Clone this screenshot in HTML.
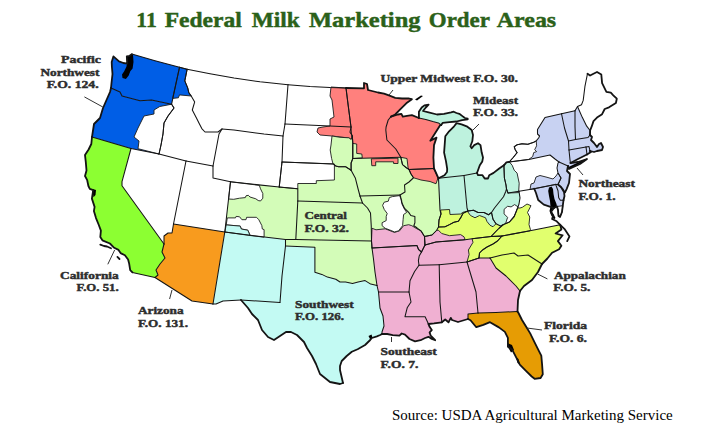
<!DOCTYPE html>
<html><head><meta charset="utf-8"><style>
html,body{margin:0;padding:0;background:#fff;}
body{width:720px;height:430px;position:relative;overflow:hidden;}
svg{position:absolute;left:0;top:0;}
</style></head><body>
<svg width="720" height="430" viewBox="0 0 720 430">
<g><path d="M131.8,54.1 L155,60.8 L179.5,67.3 L171.6,104.2 L160.9,101.9 L151.6,100.1 L140,100.7 L122,96 L120,92 L111,88 L111.4,84 L112.5,74 L111.9,66.7 L111.7,62 L113.4,56.4 L119,61.4 L123.4,63 L127.3,63.6 L126.8,56.4 L129.6,55.8 L131.8,54.1Z" fill="#005ee6"/><path d="M111,88 L120,92 L122,96 L140,100.7 L151.6,100.1 L160.9,101.9 L171.6,104.2 L174,108 L168,116 L164,123 L163,134 L161,145 L159,154 L131,148.5 L92,137 L94,124 L100,118 L103,108 L110,92 L111,88Z" fill="#005ee6"/><path d="M92,137 L131,148.5 L122,181.6 L122,185.8 L164,244 L162,252 L165,258 L160,264 L156,270 L158,275 L155,277.5 L132.4,272.4 L130.2,270.2 L129.2,263.8 L128.1,259.5 L124.9,255.3 L120.6,253.1 L118.5,249.9 L114.2,247.8 L109.9,243.5 L102.4,240.3 L100.3,237.1 L100.9,230.6 L98.8,225 L96,218.1 L93.9,211.1 L94.6,206.9 L91.9,198.6 L93.2,190.2 L89.8,188.8 L88.4,186 L87.2,180.2 L85,176 L86.5,170.4 L85.8,162.1 L85,155.1 L88.6,149.5 L91.3,144 L92,137Z" fill="#8cff32"/><path d="M131,148.5 L159,154 L186,161 L173.5,224 L172,233 L168,233 L164,236 L164,244 L122,185.8 L122,181.6 L131,148.5Z" fill="#ffffff"/><path d="M179.5,67.3 L187.1,69.3 L184.8,80.9 L187.7,87.9 L188.8,92.6 L191.2,96 L194.7,101.9 L192.3,110 L196.7,118.6 L199.2,123.6 L201.8,128.6 L205,132 L218,132 L222,129 L219,134 L213,166 L186,161 L159,154 L161,145 L163,134 L164,123 L168,116 L174,108 L171.6,104.2 L179.5,67.3Z" fill="#ffffff"/><path d="M187.1,69.3 L210,73.8 L234,78 L260,81.8 L288,84.7 L285,124 L283,136 L264,134 L234,130 L222,129 L218,132 L205,132 L201.8,128.6 L199.2,123.6 L196.7,118.6 L192.3,110 L194.7,101.9 L191.2,96 L188.8,92.6 L187.7,87.9 L184.8,80.9 L187.1,69.3Z" fill="#ffffff"/><path d="M222,129 L234,130 L264,134 L283,136 L282,162 L279.2,187.1 L230.5,181.8 L213,178 L213,166 L219,134 L222,129Z" fill="#ffffff"/><path d="M186,161 L213,166 L213,178 L230.5,181.8 L224.8,232 L173.5,224 L186,161Z" fill="#ffffff"/><path d="M173.5,224 L224.8,232 L213,304 L192,301 L155,277.5 L158,275 L156,270 L160,264 L165,258 L162,252 L164,244 L164,236 L168,233 L172,233 L173.5,224Z" fill="#f89b1e"/><path d="M230.5,181.8 L279.2,187.1 L297.8,188.8 L297.8,201 L295.8,239.4 L285.5,239.6 L224.8,232 L230.5,181.8Z" fill="#d3fcb8"/><path d="M224.8,232 L285.5,239.6 L285.5,246 L282,276 L280,302.5 L241,300 L223,301 L216,304 L213,304 L224.8,232Z" fill="#c3faf3"/><path d="M288,84.7 L310,86.6 L330,87.6 L346,88 L348,104 L351,127 L330,126 L285,124 L288,84.7Z" fill="#ffffff"/><path d="M285,124 L330,126 L351,127 L350,132.2 L352.3,135.6 L352.8,143.4 L352.8,158.5 L351.1,163 L351.1,170.2 L345.6,166.7 L338.6,166.7 L335.8,166 L333,163.9 L282,162 L283,136 L285,124Z" fill="#ffffff"/><path d="M282,162 L333,163.9 L335.8,166 L338.6,166.7 L345.6,166.7 L351.1,170.2 L355.3,177.9 L358.1,189 L360,196 L362.5,203 L297.8,201 L297.8,188.8 L279.2,187.1 L282,162Z" fill="#d3fcb8"/><path d="M297.8,201 L362.5,203 L367.5,208 L370.5,213 L371.25,226 L371.5,241 L295.8,239.4 L297.8,201Z" fill="#d3fcb8"/><path d="M295.8,239.4 L371.5,241 L372,248 L373.4,258.3 L375,272 L377,285.5 L370.7,284.1 L365.1,280.6 L358.1,282 L352.5,283.4 L345.6,282 L340,282 L335.8,279.2 L327.4,277.1 L321.8,274.4 L314.9,272.3 L314.9,247.2 L285.5,246 L285.5,239.6 L295.8,239.4Z" fill="#d3fcb8"/><path d="M285.5,246 L314.9,247.2 L314.9,272.3 L321.8,274.4 L327.4,277.1 L335.8,279.2 L340,282 L345.6,282 L352.5,283.4 L358.1,282 L365.1,280.6 L370.7,284.1 L377,285.5 L378.5,292 L380,308 L383,316 L384,326 L382,332 L382,334 L380.2,335 L376.9,336.3 L371.8,338 L370.2,340 L365.1,345 L357.6,349.2 L351.8,351.8 L346.7,356 L341.7,361 L340,366 L340,370 L343,383 L340,384 L330,382 L320,374 L316,364 L312,356 L307,348 L304,342 L297,335 L291,332 L286,332 L280,336 L274,340 L268,337 L262,330 L258,320 L252,314 L248,308 L241,300 L280,302.5 L282,276 L285.5,246Z" fill="#c3faf3"/><path d="M346,88 L364,88.3 L364,83 L367,84 L368,90 L378,92.5 L384,93.6 L389.6,95.7 L395.2,97.8 L402.1,98.5 L409.1,98.5 L411.9,99.2 L406.3,103.3 L400.7,108.9 L395.2,114.5 L391,116.6 L388.2,120 L386.1,127 L385.8,130 L386.9,140 L395.8,149 L400.8,157.3 L352.8,158.5 L352.8,143.4 L352.3,135.6 L350,132.2 L351,127 L348,104 L346,88Z" fill="#ff807d"/><path d="M352.8,158.5 L400.8,157.3 L402.5,164.6 L406,167.5 L409,169.5 L411,174 L413.5,177.75 L409,182 L404.5,185 L405,192 L400,195 L360,196 L358.1,189 L355.3,177.9 L351.1,170.2 L351.1,163 L352.8,158.5Z" fill="#d3fcb8"/><path d="M360,196 L400,195 L400.5,196.1 L401.6,202.2 L404.6,208.4 L408.7,212.4 L410.8,215.5 L414.9,216.5 L414.9,222.7 L413.8,225.7 L416.9,227.8 L421,230.9 L424.5,236.5 L425,245 L421.5,252 L418.5,249.5 L417,245.5 L372,248 L371.5,241 L371.25,226 L370.5,213 L367.5,208 L362.5,203 L360,196Z" fill="#d3fcb8"/><path d="M372,248 L417,245.5 L418.5,249.5 L421.5,252 L419.2,256.1 L418.4,260.7 L419,265.3 L414.6,271.5 L410,280.7 L409,292 L378.5,292 L377,285.5 L375,272 L373.4,258.3 L372,248Z" fill="#f0b0d2"/><path d="M378.5,292 L409,292 L411,302 L407.2,307.8 L405,316.7 L425.1,316.7 L428.5,324 L429.6,326.8 L431.8,330.1 L429.6,332.4 L430.7,335.7 L435.2,340.2 L431.8,339 L428.5,336.8 L425.1,338 L420.6,340.2 L415,341.3 L409.5,339 L405,334.6 L401.7,333.5 L399.4,335.7 L392.7,335.2 L387.2,334 L382,334 L382,332 L384,326 L383,316 L380,308 L378.5,292Z" fill="#f0b0d2"/><path d="M391,116.6 L398,114.5 L401.4,113.8 L402.8,116.6 L407,115.9 L411.9,115.2 L418.9,118 L425.8,119.4 L432.8,121.5 L438.4,122.9 L441.2,125 L440.3,125 L430.3,140.7 L436.5,137.6 L434,145.1 L433.4,157.6 L434,168.5 L409,169.5 L406,167.5 L402.5,164.6 L400.8,157.3 L395.8,149 L386.9,140 L385.8,130 L386.1,127 L388.2,120 L391,116.6Z" fill="#ff807d"/><path d="M409,169.5 L434,168.5 L438.5,178.3 L440,210 L441,214 L439,220 L438.5,227 L436.5,230.5 L432,235 L424.5,236.5 L421,230.9 L416.9,227.8 L413.8,225.7 L414.9,222.7 L414.9,216.5 L410.8,215.5 L408.7,212.4 L404.6,208.4 L401.6,202.2 L400.5,196.1 L400,195 L405,192 L404.5,185 L409,182 L413.5,177.75 L411,174 L409,169.5Z" fill="#d3fcb8"/><path d="M438.5,178.3 L464,175.5 L477,173 L479.8,165.2 L482.3,161.4 L483,157.6 L481.7,152.6 L480.5,145.1 L478,143.2 L474.2,145.1 L471.7,148.2 L470.4,146.3 L472.3,141.3 L473,135 L471.7,130 L466.7,126.3 L461.6,124.4 L456.6,123.1 L454.1,126.3 L449.1,131.3 L445.3,136.3 L444.1,152.6 L446,161.4 L447.2,168.9 L447,172 L444.5,175.2 L438.5,178.3Z" fill="#bef2de"/><path d="M441.2,125 L442.6,122.9 L449.5,122.2 L456.5,121.5 L462.1,120.1 L467.7,119.4 L467.7,118.7 L464.9,118 L462.1,115.9 L459.3,113.8 L456.5,113 L453.7,111.7 L451,112.4 L444,113.8 L437,114.5 L428.6,112.4 L423,111 L425.8,107.5 L428.6,104.7 L424.4,105.4 L421.7,107.5 L418.9,111.7 L418.9,118 L425.8,119.4 L432.8,121.5 L438.4,122.9 L441.2,125Z" fill="#bef2de"/><path d="M438.5,178.3 L464,175.5 L467,208 L468,211 L467.3,211.2 L462.9,213.4 L460.6,217.9 L458.4,221.2 L453.9,222.3 L449.5,224.6 L445,226.8 L438.5,227 L439,220 L441,214 L440,210 L438.5,178.3Z" fill="#bef2de"/><path d="M503.9,165.3 L499.2,168.5 L493.6,172.9 L489.2,175.2 L488,178.5 L484.7,178.5 L482.5,175.2 L478,175.2 L477,173 L464,175.5 L467,208 L468,211 L473.5,210.25 L478,212.5 L484,212.5 L488.5,214.75 L491.5,212.5 L494.5,208 L497.5,204.25 L500.5,200.5 L503.5,196.75 L505.75,191.5 L506.5,189 L506,185 L504.4,178 L503.9,165.3Z" fill="#bef2de"/><path d="M438.5,227 L445,226.8 L449.5,224.6 L453.9,222.3 L458.4,221.2 L460.6,217.9 L462.9,213.4 L467.3,211.2 L468,211 L473.5,210.25 L478,212.5 L484,212.5 L488.5,214.75 L491.5,212.5 L493,219.25 L496,223.75 L500.5,226 L503.5,224.5 L499,228.25 L491,236.5 L472,238.75 L463.5,240 L436,242 L425,245 L424.5,236.5 L432,235 L436.5,230.5 L438.5,227Z" fill="#e1ff6e"/><path d="M425,245 L436,242 L463.5,240 L472,238.75 L491,236.5 L502,236 L497.5,241 L493,244 L487,247 L482.5,250 L479.5,253 L479,258 L467,262 L439.2,264.8 L419,265.3 L418.4,260.7 L419.2,256.1 L421.5,252 L425,245Z" fill="#f0b0d2"/><path d="M419,265.3 L439.2,264.8 L440,302 L441.8,322.3 L434,323.4 L428.5,324 L425.1,316.7 L405,316.7 L407.2,307.8 L411,302 L409,292 L410,280.7 L414.6,271.5 L419,265.3Z" fill="#f0b0d2"/><path d="M439.2,264.8 L467,262 L476,292 L478,313 L468,314 L468,319 L458,322 L452,320 L450.8,317.9 L448.5,322.3 L445.2,319.5 L441.8,322.3 L440,302 L439.2,264.8Z" fill="#f0b0d2"/><path d="M467,262 L479,258 L490,258 L496,268 L506,276 L516,286 L520,291 L518,300 L517.5,311.5 L496,312.5 L478,313 L476,292 L467,262Z" fill="#f0b0d2"/><path d="M468,319 L468,314 L478,313 L496,312.5 L517.5,311.5 L518.5,313 L522,320 L525.7,326 L530.2,333.4 L534.6,342.3 L539.1,351.3 L541.3,355.7 L542.1,364.6 L542.8,374.3 L540.6,378 L534.6,378.8 L531.7,376.5 L525.7,370.6 L519.8,364.6 L516.8,358.7 L512.3,349.8 L507.9,346.8 L507.9,337.9 L504.9,331.9 L498.9,327.4 L490,322.2 L483.3,324.9 L476.3,327.2 L470.5,320.2 L468,319Z" fill="#e69c04"/><path d="M490,258 L502,255 L514,253 L518,256 L528,255 L542,264 L538,272 L532,280 L524,286 L520,291 L516,286 L506,276 L496,268 L490,258Z" fill="#e1ff6e"/><path d="M479,258 L479.5,253 L482.5,250 L487,247 L493,244 L497.5,241 L502,236 L530,230.8 L544,228 L560.2,224.8 L561.4,229.4 L555.6,233.5 L562.6,235.3 L557.9,241.1 L561.4,245.7 L559.1,249.2 L552.1,252.7 L547.4,258.5 L542,264 L528,255 L518,256 L514,253 L502,255 L490,258 L479,258Z" fill="#e1ff6e"/><path d="M491,236.5 L499,228.25 L503.5,224.5 L509.5,222 L514,217 L517.6,208 L519,204 L520,197.8 L519,191.3 L534.2,188.7 L536,193 L538.2,200 L543.8,204.6 L550.5,206.8 L553.9,208 L551,212 L553,216 L552.1,219 L556.7,221.3 L560.2,224.8 L544,228 L530,230.8 L502,236 L491,236.5Z" fill="#ffffff"/><path d="M491.5,212.5 L494.5,208 L497.5,204.25 L500.5,200.5 L503.5,196.75 L505.75,191.5 L506.5,189 L508,193 L519,191.3 L520,197.8 L519,204 L517.6,208 L514,217 L509.5,222 L503.5,224.5 L500.5,226 L496,223.75 L493,219.25 L491.5,212.5Z" fill="#bef2de"/><path d="M534.2,188.7 L555.6,184.4 L558,190.7 L558.7,197.8 L560.3,200.2 L563.5,200.2 L562.8,205.7 L562,212 L560,217 L558.5,216 L558,210 L557,206.5 L553.9,208 L550.5,206.8 L543.8,204.6 L538.2,200 L536,193 L534.2,188.7Z" fill="#c8d2f2"/><path d="M555.6,184.4 L558,184.5 L561,187 L564,192 L564.5,196 L563.5,200.2 L560.3,200.2 L558.7,197.8 L558,190.7 L555.6,184.4Z" fill="#c8d2f2"/><path d="M558,184.5 L561,178 L558,173 L557,168 L558,163 L559,162 L568,166 L567,171 L570,174 L569,183 L566.6,189.1 L565,192.3 L563,189 L558,184.5Z" fill="#c8d2f2"/><path d="M509.3,161.9 L506.4,162.4 L503.9,165.3 L504.4,178 L506,185 L506.5,189 L508,193 L519,191.3 L534.2,188.7 L555.6,184.4 L558,184.5 L561,178 L558,173 L557,168 L558,163 L559,162 L555,159 L550,155 L528.8,159.4 L509.3,161.9Z" fill="#ffffff"/><path d="M561.5,113.75 L545,117.5 L537.5,129.5 L537.5,134 L539.6,136 L538.6,138 L536.2,140.9 L533.7,142.3 L527.9,144.3 L522,143.8 L517.1,144.8 L514.2,146.7 L515.2,149.7 L517.1,152.6 L513.2,157.5 L509.3,161.9 L528.8,159.4 L550,155 L555,159 L559,162 L568,166 L569,169 L580,164 L587,159 L578,162 L570.5,163 L570,160 L569,150 L568.5,141 L564.5,128 L561.5,113.75Z" fill="#c8d2f2"/><path d="M561.5,113.75 L575,110.75 L575,126.5 L575.5,139.5 L568.5,141 L564.5,128 L561.5,113.75Z" fill="#c8d2f2"/><path d="M575,110.75 L577.5,106.5 L582.4,117.6 L586.7,126.2 L590.1,130.5 L590,135 L588,137.5 L575.5,139.5 L575,126.5 L575,110.75Z" fill="#c8d2f2"/><path d="M577.5,106.5 L581.5,104.7 L583.2,100.4 L584.9,86.7 L587.5,73.7 L590.1,75.5 L593.5,73.7 L597,72 L601.3,74.6 L602.1,83.2 L606.4,91.8 L610.8,92.7 L613.3,95.3 L616.8,98.7 L615.9,103 L609,107.3 L604.7,109 L602.1,114.2 L597,117.6 L593.5,121.1 L591.8,126.2 L590.1,130.5 L590,135 L590.1,130.5 L586.7,126.2 L582.4,117.6 L577.5,106.5Z" fill="#ffffff"/><path d="M568.5,141 L575.5,139.5 L588,137.5 L590,135 L592,137 L591,140 L594,143 L597,147 L599,144 L601,143 L603,147 L602,150 L597,151 L594,152 L590,151 L589,146.5 L586,147 L569,150 L568.5,141Z" fill="#c8d2f2"/><path d="M569,150 L586,147 L587,154.5 L578,159 L570.5,163 L570,160 L569,150Z" fill="#c8d2f2"/><path d="M586,147 L589,146.5 L590,151 L591,152 L587,154.5 L586,147Z" fill="#c8d2f2"/><path d="M557,206.5 L562.8,205.7 L562,212 L560,217 L558.5,216 L558,210Z" fill="#ffffff" stroke="#1c1c1c" stroke-width="0.9" stroke-linejoin="round"/><path d="M171.6,104.2 L159.8,106.5 L154,110 L154,114 L144,116 L138,128 L134,137 L139,141 L138,148.7 L159,154 L161,145 L163,134 L164,123 L168,116 L174,108Z" fill="#ffffff" stroke="#1c1c1c" stroke-width="0.9" stroke-linejoin="round"/><path d="M179.5,67.3 L187.1,69.3 L184.8,80.9 L187.7,87.9 L188.8,92.6 L191.2,96 L179.5,94.9 L178.4,97.8 L172.6,98.4Z" fill="#005ee6" stroke="#1c1c1c" stroke-width="0.9" stroke-linejoin="round"/><path d="M331,87 L346,88 L348,104 L351,127 L352,140 L349,138 L332,136 L320,135 L317,132 L318,128 L323,127 L330,126 L330,119 L334,117 L332,100 L330,96Z" fill="#ff807d" stroke="#1c1c1c" stroke-width="0.9" stroke-linejoin="round"/><path d="M332,136 L340,137.3 L348.9,137.8 L351.2,139.5 L352.3,135.6 L352.8,143.4 L352.8,158.5 L351.1,163 L351.1,170.2 L345.6,166.7 L338.6,166.7 L335.8,166 L333,163.9 L331.6,158.4 L330.2,150 L331,145Z" fill="#d3fcb8" stroke="#1c1c1c" stroke-width="0.9" stroke-linejoin="round"/><path d="M282,162 L333,163.9 L334.4,164 L334.4,180 L316.3,180.7 L316.3,183.5 L297.8,183.5 L297.8,188.8 L279.2,187.1Z" fill="#ffffff" stroke="#1c1c1c" stroke-width="0.9" stroke-linejoin="round"/><path d="M352.8,143.4 L356.7,144 L356.7,153.4 L361.8,154 L362.3,157.9 L352.8,158.5Z" fill="#d3fcb8" stroke="#1c1c1c" stroke-width="0.9" stroke-linejoin="round"/><path d="M371.3,158.8 L371.8,165.7 L375.7,165.7 L375.7,161.8 L393.6,161.8 L393.6,163.5 L398,163.5 L398,158.2Z" fill="#ff807d" stroke="#1c1c1c" stroke-width="0.9" stroke-linejoin="round"/><path d="M400.8,157.3 L407,158.5 L408.1,167.9 L409,169.5 L406,167.5 L402.5,164.6Z" fill="#d3fcb8" stroke="#1c1c1c" stroke-width="0.9" stroke-linejoin="round"/><path d="M409,169.5 L434,168.5 L438,178 L436,183.75 L430,181.5 L421,180 L413.5,177.75 L411,174Z" fill="#ff807d" stroke="#1c1c1c" stroke-width="0.9" stroke-linejoin="round"/><path d="M372,228.25 L376,229.8 L385.2,228.8 L394.4,232.4 L399.5,230.9 L403.6,225.7 L408.7,224.7 L411.8,225.7 L416.9,228.8 L421,230.9 L424.5,236.5 L425,245 L421.5,252 L418.5,249.5 L417,245.5 L372,248 L371.5,241Z" fill="#f0b0d2" stroke="#1c1c1c" stroke-width="0.9" stroke-linejoin="round"/><path d="M392.4,196.6 L399.5,195.6 L401.6,200.2 L402.1,204.3 L404.6,209.4 L406.7,212.4 L403.6,214.5 L403.1,219.6 L402.6,225.7 L398.5,230.9 L394.4,231.9 L389.3,229.8 L385.2,228.3 L382.1,225.7 L382.1,222.7 L386.2,220.6 L386.2,216.5 L387.2,213.5 L384.2,209.4 L382.6,205.3 L384.2,202.2 L388.3,201.2 L389.3,197.6Z" fill="#ffffff" stroke="#1c1c1c" stroke-width="0.9" stroke-linejoin="round"/><path d="M230.5,181.8 L259.3,185.3 L260.5,188.8 L262.8,193.5 L262.8,198.2 L260.5,201 L258.2,200.5 L255.8,198.8 L250,197 L248.3,195.3 L246,195.8 L245.3,197.6 L239.5,198.2 L233.7,199.3 L228.6,199Z" fill="#ffffff" stroke="#1c1c1c" stroke-width="0.9" stroke-linejoin="round"/><path d="M227.3,217.9 L235.5,217.9 L236.1,216.4 L239.6,216.8 L241.9,219.7 L246,219.7 L246.6,217.3 L256.5,217.3 L258.8,219.7 L261.8,225.5 L262.3,229 L264.1,229.6 L264.1,237.2 L250.1,235.5 L247.8,230.2 L241.3,229 L240.2,226.1 L226.2,224.9Z" fill="#ffffff" stroke="#1c1c1c" stroke-width="0.9" stroke-linejoin="round"/><path d="M226.2,224.9 L240.2,226.1 L241.3,229 L247.8,230.2 L250.1,235.5 L224.8,232Z" fill="#c3faf3" stroke="#1c1c1c" stroke-width="0.9" stroke-linejoin="round"/><path d="M440.6,210 L449.5,209.5 L450,214.5 L460.6,214 L462.9,212.3 L467.3,211.2 L468,211 L467.3,211.2 L462.9,213.4 L460.6,217.9 L458.4,221.2 L453.9,222.3 L449.5,224.6 L445,226.8 L438.5,227 L439,220 L441,214Z" fill="#e1ff6e" stroke="#1c1c1c" stroke-width="0.9" stroke-linejoin="round"/><path d="M467.3,211.2 L470.5,215.5 L475,217.75 L479.5,215.5 L485.5,217.75 L487,221.5 L490,225.25 L493,226.75 L496,223.75 L493,219.25 L491.5,212.5 L488.5,214.75 L484,212.5 L478,212.5 L473.5,210.25 L468,211Z" fill="#bef2de" stroke="#1c1c1c" stroke-width="0.9" stroke-linejoin="round"/><path d="M438.3,230.1 L441.7,233.5 L449.5,235.7 L460.6,234.6 L464,236.8 L465.1,239.5 L436,242 L425,245 L424.5,236.5 L432,235 L436.5,230.5Z" fill="#f0b0d2" stroke="#1c1c1c" stroke-width="0.9" stroke-linejoin="round"/><path d="M472,238.75 L473,242.3 L468.4,250 L469.1,254.6 L467,262 L479,258 L479.5,253 L482.5,250 L487,247 L493,244 L497.5,241 L502,236 L491,236.5Z" fill="#e1ff6e" stroke="#1c1c1c" stroke-width="0.9" stroke-linejoin="round"/><path d="M504.1,209.3 L507.6,206.3 L511.1,206.9 L514.6,204.6 L518.1,206.9 L515.8,213.9 L511.1,219.7 L508.8,223.2 L505.3,224.4 L507.6,217.4 L504.1,213.9Z" fill="#ffffff" stroke="#1c1c1c" stroke-width="0.9" stroke-linejoin="round"/><path d="M503.5,224.5 L509.5,222 L514,217 L517.6,208 L520,208 L522.3,207.3 L527,204 L531,205.7 L527.5,212.5 L529.75,217 L529,224.5 L530.5,229.75 L530,230.8 L502,236 L491,236.5 L499,228.25Z" fill="#e1ff6e" stroke="#1c1c1c" stroke-width="0.9" stroke-linejoin="round"/><path d="M503.9,165.3 L506.4,162.4 L509.3,161.9 L512.2,165.3 L514.2,170.2 L517.1,173.1 L518.1,178 L519.2,183.2 L518.6,192.6 L508,193 L506.5,189 L506,185 L504.4,178Z" fill="#bef2de" stroke="#1c1c1c" stroke-width="0.9" stroke-linejoin="round"/><path d="M530,189.5 L531,184 L534,183 L536,177 L540,175.5 L546,177 L553,179 L556,176 L558,173 L561,178 L558,184.5 L555.6,184.4Z" fill="#c8d2f2" stroke="#1c1c1c" stroke-width="0.9" stroke-linejoin="round"/><path d="M509.3,161.9 L513.2,157.5 L517.1,152.6 L515.2,149.7 L514.2,146.7 L517.1,144.8 L522,143.8 L527.9,144.3 L533.7,142.3 L536.2,140.9 L536.6,145.8 L534.7,149.7 L536.6,151.6 L533.7,152.6 L532.7,156.5 L528.8,159.4Z" fill="#ffffff" stroke="#1c1c1c" stroke-width="0.9" stroke-linejoin="round"/><path d="M368.5,336 L371.5,334.5 L372.5,337.5 L370.5,340Z" fill="#000"/><path d="M507.5,343 L512,345 L514,350 L511,352.5 L508.5,348Z" fill="#000"/><path d="M516,357 L518.5,359 L520,364.5 L517.5,363Z" fill="#000"/><path d="M126.8,56.4 L129.6,55.8 L131.8,54.1 L133,54.7 L133.5,62 L132.6,68.4 L130.3,71.2 L128.7,75.6 L125.9,79 L122.5,77.9 L122,74.5 L124.2,71.2 L126.4,66.7 L127,63.4 L126.5,60Z" fill="#000"/><path d="M92.6,189 L96,190 L95.5,195 L93.5,197.2 L92.8,193Z" fill="#000"/><path d="M415,99.5 L421,95.5 L423,96 L417,100.6Z" fill="#000"/><path d="M549,187.5 L551.5,186.5 L553,189 L553.5,194 L554.5,199 L556.5,204 L557,206.5 L553.9,208 L551.5,211 L553.5,214 L555.5,218 L554,219.5 L551,215 L549.5,211 L550.5,206.8 L550,201 L549,196 L548.2,191Z" fill="#000"/><path d="M568.5,167 L578,162.5 L587,158.5 L586,160.5 L578,164.5 L569.5,169Z" fill="#000"/></g>
<g fill="none" stroke="#141414" stroke-width="1.05" stroke-linejoin="round" stroke-linecap="round"><path d="M131.8,54.1 L155,60.8 L179.5,67.3" stroke-width="1.05"/><path d="M179.5,67.3 L187.1,69.3" stroke-width="1.05"/><path d="M187.1,69.3 L210,73.8 L234,78 L260,81.8 L288,84.7" stroke-width="1.05"/><path d="M288,84.7 L310,86.6 L330,87.6 L346,88" stroke-width="1.05"/><path d="M346,88 L364,88.3 L364,83 L367,84 L368,90 L378,92.5 L384,93.6 L389.6,95.7 L395.2,97.8 L402.1,98.5 L409.1,98.5 L411.9,99.2 L406.3,103.3 L400.7,108.9 L395.2,114.5 L391,116.6" stroke-width="1.8"/><path d="M111,88 L111.4,84 L112.5,74 L111.9,66.7 L111.7,62 L113.4,56.4 L119,61.4 L123.4,63 L127.3,63.6 L126.8,56.4 L129.6,55.8 L131.8,54.1" stroke-width="1.8"/><path d="M111,88 L110,92 L103,108 L100,118 L94,124 L92,137" stroke-width="1.8"/><path d="M92,137 L91.3,144 L88.6,149.5 L85,155.1 L85.8,162.1 L86.5,170.4 L85,176 L87.2,180.2 L88.4,186 L89.8,188.8 L93.2,190.2 L91.9,198.6 L94.6,206.9 L93.9,211.1 L96,218.1 L98.8,225 L100.9,230.6 L100.3,237.1 L102.4,240.3 L109.9,243.5 L114.2,247.8 L118.5,249.9 L120.6,253.1 L124.9,255.3 L128.1,259.5 L129.2,263.8 L130.2,270.2 L132.4,272.4" stroke-width="1.8"/><path d="M132.4,272.4 L155,277.5" stroke-width="1.05"/><path d="M155,277.5 L192,301 L213,304" stroke-width="1.05"/><path d="M213,304 L216,304 L223,301 L241,300" stroke-width="1.05"/><path d="M241,300 L248,308 L252,314 L258,320 L262,330 L268,337 L274,340 L280,336 L286,332 L291,332 L297,335 L304,342 L307,348 L312,356 L316,364 L320,374 L330,382 L340,384 L343,383" stroke-width="1.8"/><path d="M343,383 L340,370 L340,366 L341.7,361 L346.7,356 L351.8,351.8 L357.6,349.2 L365.1,345 L370.2,340 L371.8,338 L376.9,336.3 L380.2,335 L382,334" stroke-width="1.8"/><path d="M382,334 L387.2,334 L392.7,335.2 L399.4,335.7 L401.7,333.5 L405,334.6 L409.5,339 L415,341.3 L420.6,340.2 L425.1,338 L428.5,336.8 L431.8,339 L435.2,340.2 L430.7,335.7 L429.6,332.4 L431.8,330.1 L429.6,326.8 L428.5,324" stroke-width="1.8"/><path d="M428.5,324 L434,323.4 L441.8,322.3" stroke-width="1.8"/><path d="M441.8,322.3 L445.2,319.5 L448.5,322.3 L450.8,317.9 L452,320 L458,322 L468,319" stroke-width="1.8"/><path d="M468,319 L470.5,320.2 L476.3,327.2 L483.3,324.9 L490,322.2 L498.9,327.4 L504.9,331.9 L507.9,337.9 L507.9,346.8 L512.3,349.8 L516.8,358.7 L519.8,364.6 L525.7,370.6 L531.7,376.5 L534.6,378.8 L540.6,378 L542.8,374.3 L542.1,364.6 L541.3,355.7 L539.1,351.3 L534.6,342.3 L530.2,333.4 L525.7,326 L522,320 L518.5,313 L517.5,311.5" stroke-width="1.8"/><path d="M517.5,311.5 L518,300 L520,291" stroke-width="1.8"/><path d="M520,291 L524,286 L532,280 L538,272 L542,264" stroke-width="1.8"/><path d="M542,264 L547.4,258.5 L552.1,252.7 L559.1,249.2 L561.4,245.7 L557.9,241.1 L562.6,235.3 L555.6,233.5 L561.4,229.4 L560.2,224.8" stroke-width="1.8"/><path d="M560.2,224.8 L556.7,221.3 L552.1,219 L553,216 L551,212 L553.9,208" stroke-width="1.8"/><path d="M534.2,188.7 L536,193 L538.2,200 L543.8,204.6 L550.5,206.8 L553.9,208" stroke-width="1.8"/><path d="M563.5,200.2 L562.8,205.7 L562,212 L560,217 L558.5,216 L558,210 L557,206.5 L553.9,208" stroke-width="1.8"/><path d="M563.5,200.2 L564.5,196 L564,192 L561,187 L558,184.5" stroke-width="1.8"/><path d="M565,192.3 L566.6,189.1 L569,183 L570,174 L567,171 L568,166" stroke-width="1.8"/><path d="M568,166 L569,169 L580,164 L587,159 L578,162 L570.5,163" stroke-width="1.8"/><path d="M570.5,163 L578,159 L587,154.5" stroke-width="1.8"/><path d="M587,154.5 L591,152 L590,151" stroke-width="1.8"/><path d="M590,151 L594,152 L597,151 L602,150 L603,147 L601,143 L599,144 L597,147 L594,143 L591,140 L592,137 L590,135" stroke-width="1.8"/><path d="M590,135 L590.1,130.5 L591.8,126.2 L593.5,121.1 L597,117.6 L602.1,114.2 L604.7,109 L609,107.3 L615.9,103 L616.8,98.7 L613.3,95.3 L610.8,92.7 L606.4,91.8 L602.1,83.2 L601.3,74.6 L597,72 L593.5,73.7 L590.1,75.5 L587.5,73.7" stroke-width="1.8"/><path d="M587.5,73.7 L584.9,86.7 L583.2,100.4 L581.5,104.7 L577.5,106.5" stroke-width="1.05"/><path d="M577.5,106.5 L575,110.75" stroke-width="1.05"/><path d="M575,110.75 L561.5,113.75" stroke-width="1.05"/><path d="M561.5,113.75 L545,117.5 L537.5,129.5 L537.5,134 L539.6,136 L538.6,138 L536.2,140.9 L533.7,142.3 L527.9,144.3 L522,143.8 L517.1,144.8 L514.2,146.7 L515.2,149.7 L517.1,152.6 L513.2,157.5 L509.3,161.9" stroke-width="1.05"/><path d="M509.3,161.9 L506.4,162.4 L503.9,165.3" stroke-width="1.8"/><path d="M503.9,165.3 L499.2,168.5 L493.6,172.9 L489.2,175.2 L488,178.5 L484.7,178.5 L482.5,175.2 L478,175.2 L477,173" stroke-width="1.8"/><path d="M477,173 L479.8,165.2 L482.3,161.4 L483,157.6 L481.7,152.6 L480.5,145.1 L478,143.2 L474.2,145.1 L471.7,148.2 L470.4,146.3 L472.3,141.3 L473,135 L471.7,130 L466.7,126.3 L461.6,124.4 L456.6,123.1 L454.1,126.3 L449.1,131.3 L445.3,136.3 L444.1,152.6 L446,161.4 L447.2,168.9 L447,172 L444.5,175.2 L438.5,178.3" stroke-width="1.8"/><path d="M438.5,178.3 L434,168.5" stroke-width="1.8"/><path d="M434,168.5 L433.4,157.6 L434,145.1 L436.5,137.6 L430.3,140.7 L440.3,125 L441.2,125" stroke-width="1.8"/><path d="M391,116.6 L398,114.5 L401.4,113.8 L402.8,116.6 L407,115.9 L411.9,115.2 L418.9,118" stroke-width="1.8"/><path d="M418.9,118 L425.8,119.4 L432.8,121.5 L438.4,122.9 L441.2,125" stroke-width="1.05"/><path d="M441.2,125 L442.6,122.9 L449.5,122.2 L456.5,121.5 L462.1,120.1 L467.7,119.4 L467.7,118.7 L464.9,118 L462.1,115.9 L459.3,113.8 L456.5,113 L453.7,111.7 L451,112.4 L444,113.8 L437,114.5 L428.6,112.4 L423,111 L425.8,107.5 L428.6,104.7 L424.4,105.4 L421.7,107.5 L418.9,111.7 L418.9,118" stroke-width="1.8"/><path d="M111,88 L120,92 L122,96 L140,100.7 L151.6,100.1 L160.9,101.9 L171.6,104.2" stroke-width="1.05"/><path d="M179.5,67.3 L171.6,104.2" stroke-width="1.05"/><path d="M187.1,69.3 L184.8,80.9 L187.7,87.9 L188.8,92.6 L191.2,96 L194.7,101.9 L192.3,110 L196.7,118.6 L199.2,123.6 L201.8,128.6 L205,132 L218,132 L222,129" stroke-width="1.05"/><path d="M222,129 L234,130 L264,134 L283,136" stroke-width="1.05"/><path d="M222,129 L219,134 L213,166" stroke-width="1.05"/><path d="M171.6,104.2 L174,108 L168,116 L164,123 L163,134 L161,145 L159,154" stroke-width="1.05"/><path d="M92,137 L131,148.5" stroke-width="1.05"/><path d="M131,148.5 L159,154" stroke-width="1.05"/><path d="M159,154 L186,161" stroke-width="1.05"/><path d="M186,161 L213,166" stroke-width="1.05"/><path d="M213,166 L213,178 L230.5,181.8" stroke-width="1.05"/><path d="M230.5,181.8 L279.2,187.1" stroke-width="1.05"/><path d="M279.2,187.1 L282,162" stroke-width="1.05"/><path d="M282,162 L283,136" stroke-width="1.05"/><path d="M288,84.7 L285,124" stroke-width="1.05"/><path d="M285,124 L283,136" stroke-width="1.05"/><path d="M285,124 L330,126 L351,127" stroke-width="1.05"/><path d="M346,88 L348,104 L351,127" stroke-width="1.05"/><path d="M282,162 L333,163.9 L335.8,166 L338.6,166.7 L345.6,166.7 L351.1,170.2" stroke-width="1.05"/><path d="M351,127 L350,132.2 L352.3,135.6 L352.8,143.4 L352.8,158.5" stroke-width="1.05"/><path d="M352.8,158.5 L351.1,163 L351.1,170.2" stroke-width="1.05"/><path d="M131,148.5 L122,181.6 L122,185.8 L164,244" stroke-width="1.05"/><path d="M186,161 L173.5,224" stroke-width="1.05"/><path d="M173.5,224 L172,233 L168,233 L164,236 L164,244" stroke-width="1.05"/><path d="M164,244 L162,252 L165,258 L160,264 L156,270 L158,275 L155,277.5" stroke-width="1.05"/><path d="M173.5,224 L224.8,232" stroke-width="1.05"/><path d="M230.5,181.8 L224.8,232" stroke-width="1.05"/><path d="M224.8,232 L213,304" stroke-width="1.05"/><path d="M224.8,232 L285.5,239.6" stroke-width="1.05"/><path d="M285.5,239.6 L285.5,246" stroke-width="1.05"/><path d="M285.5,246 L282,276 L280,302.5" stroke-width="1.05"/><path d="M280,302.5 L241,300" stroke-width="1.05"/><path d="M285.5,239.6 L295.8,239.4" stroke-width="1.05"/><path d="M295.8,239.4 L297.8,201" stroke-width="1.05"/><path d="M279.2,187.1 L297.8,188.8 L297.8,201" stroke-width="1.05"/><path d="M297.8,201 L362.5,203" stroke-width="1.05"/><path d="M351.1,170.2 L355.3,177.9 L358.1,189 L360,196" stroke-width="1.05"/><path d="M360,196 L362.5,203" stroke-width="1.05"/><path d="M362.5,203 L367.5,208 L370.5,213 L371.25,226 L371.5,241" stroke-width="1.05"/><path d="M295.8,239.4 L371.5,241" stroke-width="1.05"/><path d="M285.5,246 L314.9,247.2 L314.9,272.3 L321.8,274.4 L327.4,277.1 L335.8,279.2 L340,282 L345.6,282 L352.5,283.4 L358.1,282 L365.1,280.6 L370.7,284.1 L377,285.5" stroke-width="1.05"/><path d="M371.5,241 L372,248" stroke-width="1.05"/><path d="M372,248 L373.4,258.3 L375,272 L377,285.5" stroke-width="1.05"/><path d="M377,285.5 L378.5,292" stroke-width="1.05"/><path d="M378.5,292 L380,308 L383,316 L384,326 L382,332 L382,334" stroke-width="1.05"/><path d="M378.5,292 L409,292" stroke-width="1.05"/><path d="M409,292 L411,302 L407.2,307.8 L405,316.7 L425.1,316.7 L428.5,324" stroke-width="1.05"/><path d="M419,265.3 L414.6,271.5 L410,280.7 L409,292" stroke-width="1.05"/><path d="M372,248 L417,245.5 L418.5,249.5 L421.5,252" stroke-width="1.05"/><path d="M421.5,252 L419.2,256.1 L418.4,260.7 L419,265.3" stroke-width="1.05"/><path d="M419,265.3 L439.2,264.8" stroke-width="1.05"/><path d="M439.2,264.8 L467,262" stroke-width="1.05"/><path d="M439.2,264.8 L440,302 L441.8,322.3" stroke-width="1.05"/><path d="M467,262 L476,292 L478,313" stroke-width="1.05"/><path d="M478,313 L468,314 L468,319" stroke-width="1.05"/><path d="M478,313 L496,312.5 L517.5,311.5" stroke-width="1.05"/><path d="M467,262 L479,258" stroke-width="1.05"/><path d="M479,258 L490,258" stroke-width="1.05"/><path d="M490,258 L496,268 L506,276 L516,286 L520,291" stroke-width="1.05"/><path d="M490,258 L502,255 L514,253 L518,256 L528,255 L542,264" stroke-width="1.05"/><path d="M479,258 L479.5,253 L482.5,250 L487,247 L493,244 L497.5,241 L502,236" stroke-width="1.05"/><path d="M502,236 L530,230.8 L544,228 L560.2,224.8" stroke-width="1.05"/><path d="M491,236.5 L502,236" stroke-width="1.05"/><path d="M425,245 L436,242 L463.5,240 L472,238.75 L491,236.5" stroke-width="1.05"/><path d="M424.5,236.5 L425,245" stroke-width="1.05"/><path d="M425,245 L421.5,252" stroke-width="1.05"/><path d="M360,196 L400,195" stroke-width="1.05"/><path d="M352.8,158.5 L400.8,157.3" stroke-width="1.05"/><path d="M391,116.6 L388.2,120 L386.1,127 L385.8,130 L386.9,140 L395.8,149 L400.8,157.3" stroke-width="1.05"/><path d="M400.8,157.3 L402.5,164.6 L406,167.5 L409,169.5" stroke-width="1.05"/><path d="M409,169.5 L434,168.5" stroke-width="1.05"/><path d="M409,169.5 L411,174 L413.5,177.75 L409,182 L404.5,185 L405,192 L400,195" stroke-width="1.05"/><path d="M400,195 L400.5,196.1 L401.6,202.2 L404.6,208.4 L408.7,212.4 L410.8,215.5 L414.9,216.5 L414.9,222.7 L413.8,225.7 L416.9,227.8 L421,230.9 L424.5,236.5" stroke-width="1.05"/><path d="M424.5,236.5 L432,235 L436.5,230.5 L438.5,227" stroke-width="1.05"/><path d="M438.5,178.3 L440,210 L441,214 L439,220 L438.5,227" stroke-width="1.05"/><path d="M438.5,227 L445,226.8 L449.5,224.6 L453.9,222.3 L458.4,221.2 L460.6,217.9 L462.9,213.4 L467.3,211.2 L468,211" stroke-width="1.05"/><path d="M464,175.5 L467,208 L468,211" stroke-width="1.05"/><path d="M438.5,178.3 L464,175.5" stroke-width="1.05"/><path d="M464,175.5 L477,173" stroke-width="1.05"/><path d="M468,211 L473.5,210.25 L478,212.5 L484,212.5 L488.5,214.75 L491.5,212.5" stroke-width="1.05"/><path d="M491.5,212.5 L494.5,208 L497.5,204.25 L500.5,200.5 L503.5,196.75 L505.75,191.5 L506.5,189" stroke-width="1.05"/><path d="M503.9,165.3 L504.4,178 L506,185 L506.5,189" stroke-width="1.05"/><path d="M506.5,189 L508,193" stroke-width="1.05"/><path d="M491.5,212.5 L493,219.25 L496,223.75 L500.5,226 L503.5,224.5" stroke-width="1.05"/><path d="M503.5,224.5 L499,228.25 L491,236.5" stroke-width="1.05"/><path d="M503.5,224.5 L509.5,222 L514,217 L517.6,208 L519,204 L520,197.8 L519,191.3" stroke-width="1.05"/><path d="M508,193 L519,191.3" stroke-width="1.05"/><path d="M519,191.3 L534.2,188.7" stroke-width="1.05"/><path d="M534.2,188.7 L555.6,184.4" stroke-width="1.05"/><path d="M555.6,184.4 L558,184.5" stroke-width="1.05"/><path d="M555.6,184.4 L558,190.7 L558.7,197.8 L560.3,200.2 L563.5,200.2" stroke-width="1.05"/><path d="M558,184.5 L563,189 L565,192.3" stroke-width="1.05"/><path d="M559,162 L558,163 L557,168 L558,173 L561,178 L558,184.5" stroke-width="1.05"/><path d="M509.3,161.9 L528.8,159.4 L550,155 L555,159 L559,162" stroke-width="1.05"/><path d="M559,162 L568,166" stroke-width="1.05"/><path d="M561.5,113.75 L564.5,128 L568.5,141" stroke-width="1.05"/><path d="M568.5,141 L569,150" stroke-width="1.05"/><path d="M569,150 L570,160 L570.5,163" stroke-width="1.05"/><path d="M575,110.75 L575,126.5 L575.5,139.5" stroke-width="1.05"/><path d="M568.5,141 L575.5,139.5" stroke-width="1.05"/><path d="M575.5,139.5 L588,137.5 L590,135" stroke-width="1.05"/><path d="M577.5,106.5 L582.4,117.6 L586.7,126.2 L590.1,130.5 L590,135" stroke-width="1.05"/><path d="M569,150 L586,147" stroke-width="1.05"/><path d="M586,147 L589,146.5 L590,151" stroke-width="1.05"/><path d="M586,147 L587,154.5" stroke-width="1.05"/><path d="M560.2,224.8 L564.9,229.4 L569.5,236.4 L567.2,241.1" stroke-width="1.8"/><path d="M100.3,244.6 L104,246 L107,246.5 L111,248.3" stroke-width="1.8"/><path d="M117.4,256.9 L119.5,259" stroke-width="1.8"/></g>
<g font-family="Liberation Serif, serif" font-weight="bold" font-size="11.2" fill="#2e2e2e" stroke="#2e2e2e" stroke-width="0.45">
<text x="61" y="62.6" textLength="40.0" lengthAdjust="spacingAndGlyphs">Pacific</text>
<text x="40.4" y="75.6" textLength="59.1" lengthAdjust="spacingAndGlyphs">Northwest</text>
<text x="46.7" y="88.2" textLength="51.9" lengthAdjust="spacingAndGlyphs">F.O. 124.</text>
<text x="380.4" y="82" textLength="137.6" lengthAdjust="spacingAndGlyphs">Upper Midwest F.O. 30.</text>
<text x="473" y="104.4" textLength="45.0" lengthAdjust="spacingAndGlyphs">Mideast</text>
<text x="473" y="116" textLength="45.0" lengthAdjust="spacingAndGlyphs">F.O. 33.</text>
<text x="578.4" y="186.6" textLength="56.6" lengthAdjust="spacingAndGlyphs">Northeast</text>
<text x="578.4" y="200" textLength="37.2" lengthAdjust="spacingAndGlyphs">F.O. 1.</text>
<text x="304.4" y="218.9" textLength="42.6" lengthAdjust="spacingAndGlyphs">Central</text>
<text x="304.4" y="232" textLength="44.6" lengthAdjust="spacingAndGlyphs">F.O. 32.</text>
<text x="60" y="278.5" textLength="58.8" lengthAdjust="spacingAndGlyphs">California</text>
<text x="76.5" y="290.6" textLength="42.2" lengthAdjust="spacingAndGlyphs">F.O. 51.</text>
<text x="138" y="314" textLength="45.6" lengthAdjust="spacingAndGlyphs">Arizona</text>
<text x="138" y="327" textLength="50.0" lengthAdjust="spacingAndGlyphs">F.O. 131.</text>
<text x="295" y="308" textLength="58.6" lengthAdjust="spacingAndGlyphs">Southwest</text>
<text x="295" y="320.4" textLength="49.0" lengthAdjust="spacingAndGlyphs">F.O. 126.</text>
<text x="380.6" y="354.8" textLength="56.1" lengthAdjust="spacingAndGlyphs">Southeast</text>
<text x="380.6" y="367.6" textLength="37.7" lengthAdjust="spacingAndGlyphs">F.O. 7.</text>
<text x="553.9" y="278.5" textLength="71.9" lengthAdjust="spacingAndGlyphs">Appalachian</text>
<text x="553.3" y="290.7" textLength="37.1" lengthAdjust="spacingAndGlyphs">F.O. 5.</text>
<text x="544" y="329" textLength="43.0" lengthAdjust="spacingAndGlyphs">Florida</text>
<text x="549" y="342.4" textLength="38.0" lengthAdjust="spacingAndGlyphs">F.O. 6.</text>
</g>
<g stroke="#333" stroke-width="1" fill="none">
<path d="M84.4,96.9 L102.8,107"/>
<path d="M393,90 L389,95"/>
<path d="M479,124 L472,131"/>
<path d="M577,168 L583,175"/>
<path d="M107.8,264.3 L114.7,249.9"/>
<path d="M172,290 L169.6,299"/>
<path d="M537.6,274 L547.4,278.9"/>
<path d="M527,328 L542,330"/>
<path d="M391.5,337 L391.5,342"/>
</g>
<g font-family="Liberation Serif, serif" font-weight="bold" font-size="22" fill="#2b6119" stroke="#2b6119" stroke-width="0.45">
<text x="136.3" y="27.2" textLength="20.5" lengthAdjust="spacingAndGlyphs">11</text>
<text x="164.7" y="27.2" textLength="77.1" lengthAdjust="spacingAndGlyphs">Federal</text>
<text x="251.7" y="27.2" textLength="48.0" lengthAdjust="spacingAndGlyphs">Milk</text>
<text x="308.9" y="27.2" textLength="111.7" lengthAdjust="spacingAndGlyphs">Marketing</text>
<text x="428.8" y="27.2" textLength="61.2" lengthAdjust="spacingAndGlyphs">Order</text>
<text x="496.8" y="27.2" textLength="59.4" lengthAdjust="spacingAndGlyphs">Areas</text>
</g>
<text x="392" y="419.5" textLength="280.7" lengthAdjust="spacingAndGlyphs" font-family="Liberation Serif, serif" font-size="15" fill="#000">Source: USDA Agricultural Marketing Service</text>
</svg>
</body></html>
